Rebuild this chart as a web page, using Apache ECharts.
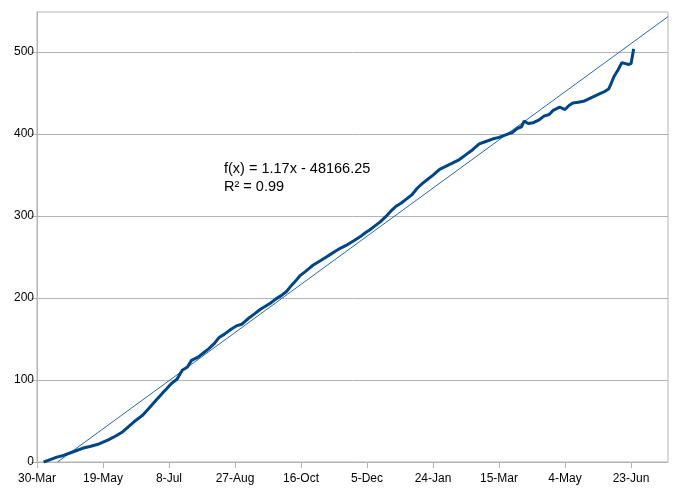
<!DOCTYPE html>
<html>
<head>
<meta charset="utf-8">
<script src="https://cdn.jsdelivr.net/npm/echarts@6/dist/echarts.min.js"></script>
<style>
html,body{margin:0;padding:0;background:#fff;}
#chart{width:682px;height:493px;}
</style>
</head>
<body>
<div id="chart"></div>
<script>
// Days since 30-Mar (start of x axis)
const days = [5,10,15,20,25,30,35,40,47,54,60,65,70,75,80,85,90,95,98,102,106,110,114,117,122,126,130,134,138,142,147,151,155,160,165,169,173,177,181,185,189,192,196,199,203,206,209,214,218,222,226,230,235,240,245,249,252,256,260,264,268,272,276,280,284,288,292,296,300,305,310,315,320,325,330,335,340,345,350,355,360,364,367,369,372,376,380,384,388,391,396,400,403,406,410,414,418,422,426,430,433,435,437,440,443,444,446,448,450,452];
const values = [0,3,6,8,11,14,17,19,22,27,32,37,44,51,57,66,75,84,89,96,101,112,116,124,128,133,138,144,152,156,162,166,168,175,181,186,190,194,199,203,208,214,221,227,232,236,240,245,249,253,257,261,265,270,275,280,283,288,293,299,306,312,316,321,326,334,340,345,350,357,361,365,369,375,381,388,391,394,396,399,402,407,409,416,413,414,417,422,424,429,433,430,435,438,439,440,443,446,449,452,455,462,470,478,487,489,486,485,486,504];
const xTickDays = [0,50,100,150,200,250,300,350,400,450];
const xTickLabels = ['30-Mar','19-May','8-Jul','27-Aug','16-Oct','5-Dec','24-Jan','15-Mar','4-May','23-Jun'];
const yTicks = [0,100,200,300,400,500];
const trendSlope = 1.175;     // per day
const trendIntercept = -18.3; // value at day 0
const trendLabel1 = 'f(x) = 1.17x - 48166.25';
const trendLabel2 = 'R² = 0.99';
const xMax = 478;
const yMax = 549;

const seriesData = days.map((d, i) => [d, values[i]]);
const tStart = -trendIntercept / trendSlope;
const trendData = [[tStart, trendSlope * tStart + trendIntercept], [xMax, trendSlope * xMax + trendIntercept]];

const chart = echarts.init(document.getElementById('chart'), null, {renderer: 'canvas'});
const gray = '#b3b3b3';
const font = 'Liberation Sans, Arial, sans-serif';
chart.setOption({
  animation: false,
  backgroundColor: '#fff',
  grid: {left: 37, top: 12, right: 14, bottom: 31, containLabel: false, show: true, borderColor: gray, borderWidth: 1},
  xAxis: {
    type: 'value', min: 0, max: xMax,
    axisLine: {show: true, lineStyle: {color: gray}},
    axisTick: {show: true, length: 6, lineStyle: {color: gray}, customValues: xTickDays},
    axisLabel: {
      customValues: xTickDays, margin: 11, color: '#000', fontFamily: font, fontSize: 12,
      formatter: v => { const i = xTickDays.indexOf(Math.round(v)); return i >= 0 ? xTickLabels[i] : ''; }
    },
    splitLine: {show: false}
  },
  yAxis: {
    type: 'value', min: 0, max: yMax,
    axisLine: {show: true, lineStyle: {color: gray}},
    axisTick: {show: true, length: 6, lineStyle: {color: gray}, customValues: yTicks},
    axisLabel: {customValues: yTicks, margin: 3, color: '#000', fontFamily: font, fontSize: 12},
    splitLine: {show: true, lineStyle: {color: gray}}
  },
  series: [
    {type: 'line', data: seriesData, showSymbol: false, symbol: 'none', lineStyle: {color: '#004586', width: 3}, z: 3},
    {type: 'line', data: trendData, showSymbol: false, symbol: 'none', lineStyle: {color: '#2a68a6', width: 1}, z: 2}
  ],
  graphic: [
    {type: 'text', left: 224, top: 161, style: {text: trendLabel1, fill: '#000', font: '14.5px ' + font}},
    {type: 'text', left: 224, top: 179, style: {text: trendLabel2, fill: '#000', font: '14.5px ' + font}}
  ]
});
</script>
</body>
</html>
